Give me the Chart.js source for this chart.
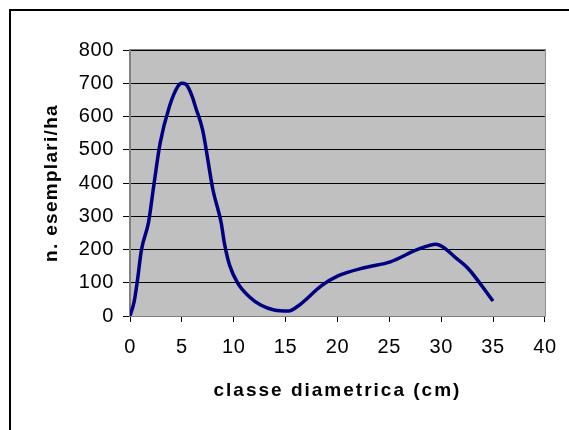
<!DOCTYPE html>
<html>
<head>
<meta charset="utf-8">
<script src="https://cdn.jsdelivr.net/npm/chart.js@4/dist/chart.umd.min.js"></script>
<style>
  html, body { margin: 0; padding: 0; background: #fff; }
</style>
</head>
<body>
<canvas id="myChart" width="569" height="430"></canvas>
<script>
const classi = [0, 0.4, 0.7, 1.1, 1.8, 2.3, 2.9, 3.8, 4.6, 5.0, 5.4, 6.0, 6.3, 7.0, 8.0, 8.8, 9.1, 9.6,
  10.4, 11.5, 12.6, 13.9, 15.3, 16.2, 18.5, 20.0, 22.7, 25.1, 27.8, 29.5, 30.2, 31.3, 32.6, 35.0];
const esemplari = [0, 43, 103, 198, 284, 394, 519, 630, 690, 700, 697, 660, 630, 560, 379, 279, 219, 153,
  98, 58, 33, 18, 15, 30, 92, 120, 146, 163, 201, 216, 207, 178, 143, 45];
const xTicks = [0, 5, 10, 15, 20, 25, 30, 35, 40];
const yTicks = [0, 100, 200, 300, 400, 500, 600, 700, 800];

const punti = classi.map((c, i) => ({ x: c, y: esemplari[i] }));

// titoli degli assi con lettere un po' spaziate
function spazia(s, px) {
  if (s._spaziato) return;
  const orig = s.drawTitle.bind(s);
  s.drawTitle = function () {
    this.ctx.letterSpacing = px;
    orig();
    this.ctx.letterSpacing = "0.6px";
  };
  s._spaziato = true;
}

// sfondo grigio dell'area, bordo e cornice esterna
const area = {
  id: "area",
  beforeDraw(chart) {
    const { ctx, chartArea: a } = chart;
    ctx.letterSpacing = "0.6px";
    ctx.save();
    ctx.fillStyle = "#fff";
    ctx.fillRect(0, 0, chart.width, chart.height);
    ctx.fillStyle = "#C0C0C0";
    ctx.fillRect(a.left, a.top, a.right - a.left, a.bottom - a.top);
    ctx.restore();
  },
  afterDraw(chart) {
    const { ctx, chartArea: a } = chart;
    ctx.save();
    ctx.strokeStyle = "#808080";
    ctx.lineWidth = 1;
    ctx.strokeRect(a.left - 0.5, a.top - 0.5, a.right - a.left + 1, a.bottom - a.top + 1);
    ctx.strokeStyle = "#000";
    ctx.lineWidth = 2;
    ctx.strokeRect(10, 10, 580, 440);
    ctx.restore();
  },
};

const ctx = document.getElementById("myChart");

new Chart(ctx, {
  type: "line",
  data: {
    datasets: [
      {
        label: "n. esemplari/ha",
        data: punti,
        borderColor: "#000080",
        borderWidth: 3.5,
        pointRadius: 0,
        fill: false,
        cubicInterpolationMode: "monotone",
      },
    ],
  },
  options: {
    responsive: false,
    animation: false,
    layout: { padding: { left: 0, top: 50, right: 21, bottom: 0 } },
    plugins: {
      legend: { display: false },
      tooltip: { enabled: false },
    },
    scales: {
      x: {
        type: "linear",
        min: 0,
        max: 40,
        afterBuildTicks: (s) => { s.ticks = xTicks.map((v) => ({ value: v })); },
        afterFit: (s) => { s.height = 114; spazia(s, "2px"); },
        grid: { drawOnChartArea: false, drawTicks: true, tickLength: 6, color: "#000" },
        border: { color: "#000", width: 1 },
        ticks: { color: "#000", padding: 13, font: { family: "Arial, 'Liberation Sans'", size: 20 } },
        title: {
          display: true,
          text: "classe diametrica (cm)",
          color: "#000",
          font: { family: "Arial, 'Liberation Sans'", size: 19, weight: "bold" },
          padding: { top: 0, bottom: 28 },
        },
      },
      y: {
        min: 0,
        max: 800,
        afterBuildTicks: (s) => { s.ticks = yTicks.map((v) => ({ value: v })); },
        afterFit: (s) => { s.width = 130; spazia(s, "1.3px"); },
        grid: { color: "#000", tickLength: 7, lineWidth: 1 },
        border: { color: "#808080", width: 1 },
        ticks: { color: "#000", padding: 9, font: { family: "Arial, 'Liberation Sans'", size: 20 } },
        title: {
          display: true,
          text: "n. esemplari/ha",
          color: "#000",
          font: { family: "Arial, 'Liberation Sans'", size: 19, weight: "bold" },
          padding: { top: 40, bottom: 0 },
        },
      },
    },
  },
  plugins: [area],
});
</script>
</body>
</html>
